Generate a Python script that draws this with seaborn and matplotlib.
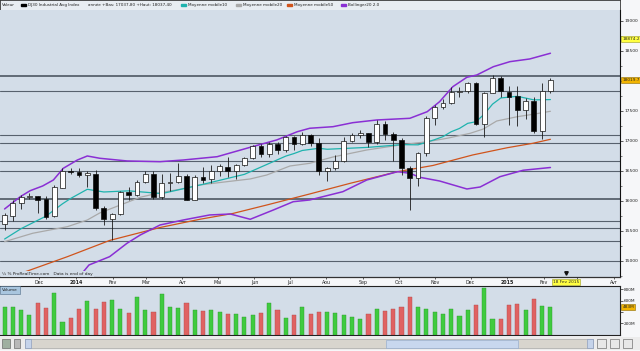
import numpy as np
import pandas as pd
import matplotlib
matplotlib.use("Agg")
import matplotlib.pyplot as plt
import matplotlib.transforms as mtransforms
from matplotlib.patches import Rectangle
from matplotlib.ticker import FuncFormatter
import seaborn as sns

# weekly candles DJ30, first week starts 4 Nov 2013, last week 9 Feb 2015
opens = [15617, 15750, 15962, 16064, 16083, 16028, 15750, 16211, 16500, 16483,
         16433, 16450, 15878, 15695, 15790, 16155, 16100, 16322, 16450, 16061,
         16300, 16322, 16417, 16017, 16405, 16367, 16505, 16572, 16495, 16606,
         16717, 16924, 16776, 16947, 16851, 17068, 16944, 17100, 16961, 16493,
         16554, 16663, 17001, 17098, 17138, 16988, 17280, 17113, 17010, 16544,
         16380, 16805, 17391, 17573, 17635, 17810, 17828, 17959, 17281, 17805,
         18053, 17822, 17750, 17512, 17673, 17165, 17825]
highs = [15805, 16017, 16100, 16130, 16090, 16080, 16267, 16545, 16545, 16545,
         16505, 16510, 15917, 15800, 16160, 16228, 16350, 16505, 16505, 16450,
         16461, 16633, 16450, 16433, 16561, 16600, 16610, 16735, 16620, 16735,
         16933, 16950, 16983, 16983, 17083, 17083, 17151, 17110, 17045, 16572,
         16767, 17072, 17133, 17190, 17140, 17350, 17333, 17150, 17045, 16583,
         16822, 17411, 17600, 17695, 17905, 17905, 17983, 17990, 17822, 18103,
         18090, 17922, 17922, 17722, 17733, 17961, 18045]
lows = [15517, 15672, 15862, 16030, 15795, 15700, 15738, 16211, 16450, 16405,
        16228, 15850, 15600, 15350, 15770, 16017, 16083, 16295, 16033, 16030,
        16172, 16300, 16015, 16015, 16305, 16305, 16420, 16400, 16365, 16590,
        16700, 16728, 16733, 16783, 16817, 16850, 16930, 16917, 16433, 16333,
        16517, 16645, 16990, 17050, 16905, 16950, 17017, 16674, 16433, 15855,
        16255, 16750, 17267, 17530, 17610, 17740, 17805, 17270, 17068, 17800,
        17730, 17262, 17250, 17362, 17139, 17038, 17800]
closes = [15767, 15962, 16062, 16086, 16017, 15738, 16228, 16505, 16478, 16439,
          16461, 15878, 15695, 15790, 16150, 16100, 16317, 16450, 16061, 16305,
          16320, 16417, 16017, 16405, 16355, 16505, 16583, 16495, 16606, 16717,
          16924, 16776, 16947, 16851, 17068, 16944, 17100, 16961, 16493, 16554,
          16663, 17001, 17098, 17138, 16988, 17280, 17113, 17010, 16544, 16380,
          16805, 17391, 17573, 17635, 17810, 17828, 17959, 17281, 17805, 18053,
          17833, 17737, 17517, 17673, 17165, 17825, 18019.7]
volumes_m = [488, 494, 435, 347, 553, 476, 729, 223, 294, 453,
             594, 453, 570, 606, 453, 388, 670, 429, 406, 717,
             488, 465, 553, 429, 423, 435, 394, 370, 370, 312,
             353, 376, 559, 435, 300, 341, 494, 365, 400, 400,
             376, 341, 306, 270, 365, 447, 417, 453, 494, 664,
             494, 447, 394, 365, 459, 329, 429, 523, 823, 282,
             270, 523, 547, 435, 629, 512, 483]

# indicator lines: (week index, value)
ma10_week = [0, 2, 5, 7, 8, 10, 12, 15, 19, 24, 29, 34, 35, 36, 38, 39, 44, 48, 50,
             52, 53, 54, 55, 56, 57, 58, 59, 60, 62, 64, 66]
ma10_val = [15366, 15539, 15747, 15953, 16043, 16195, 16150, 16169, 16123, 16278,
            16444, 16748, 16791, 16842, 16878, 16862, 16894, 16939, 16936, 17022,
            17072, 17154, 17209, 17294, 17321, 17447, 17614, 17717, 17745, 17685, 17690]
ma20_week = [0, 3.4, 7.6, 10, 11.5, 14, 16.4, 18.8, 21.2, 23.6, 26.9, 29.7, 31.7,
             34.5, 36.9, 39.7, 43.8, 47.8, 51.1, 53.5, 56.3, 57.9, 59.5, 62, 63.9, 66]
ma20_val = [15322, 15462, 15572, 15683, 15800, 15933, 16062, 16138, 16195, 16267,
            16322, 16367, 16433, 16583, 16628, 16733, 16850, 16933, 16988, 17045,
            17128, 17200, 17333, 17405, 17445, 17495]
ma50_week = [0, 3.1, 7.6, 12.7, 18.8, 23.6, 27.6, 31.7, 36.9, 41.8, 47.5, 51.8,
             56.6, 60.8, 63.9, 66]
ma50_val = [14700, 14850, 15072, 15342, 15558, 15695, 15792, 15933, 16117, 16295,
            16488, 16592, 16767, 16888, 16962, 17028]
boll_up_week = [0, 1.9, 3.1, 4.6, 5.9, 7.1, 8.8, 10, 11.5, 14.8, 18.8, 21.6, 25.7,
                29.7, 32.9, 35.4, 36.9, 39.7, 42.1, 45, 49, 51.1, 52.6, 54.2, 55.9,
                57.1, 59.1, 61.1, 63.5, 66]
boll_up_val = [15867, 16072, 16172, 16250, 16350, 16545, 16683, 16750, 16712, 16667,
               16655, 16683, 16738, 16895, 17017, 17155, 17212, 17238, 17305, 17350,
               17378, 17488, 17655, 17905, 18062, 18100, 18238, 18322, 18367, 18462]
boll_lo_week = [9.1, 10.2, 12.7, 14.8, 16.4, 18.8, 21.6, 24.8, 27.3, 29.7, 32.5,
                34.9, 36.9, 40.9, 43.8, 47.5, 49, 50.2, 52.6, 55.9, 57.5, 59.9, 62.7, 66]
boll_lo_val = [14750, 14933, 15072, 15295, 15433, 15600, 15683, 15767, 15783, 15695,
               15850, 15988, 16017, 16155, 16350, 16488, 16462, 16395, 16333, 16200,
               16233, 16405, 16512, 16558]

# horizontal levels drawn on the chart
levels = [18083, 17833, 17100, 16967, 16667, 16500, 16033, 15667, 15550, 15333, 15000]

month_names = {2: "Fev", 3: "Mar", 4: "Avr", 5: "Mai", 6: "Jun", 7: "Jul",
               8: "Aou", 9: "Sep", 10: "Oct", 11: "Nov", 12: "Dec"}
cursor_date = "2015-02-18"
cursor_price = 18700
cursor_label = "18874.2"

W, H = 640, 351
PANEL = "#d3dde8"


def fig_box(x0, y0, x1, y1):
    # pixel box, origin top-left -> figure rect
    return [x0 / W, 1 - y1 / H, (x1 - x0) / W, (y1 - y0) / H]


sns.set_theme(style="white")
plt.rcParams["font.family"] = ["DejaVu Sans"]

weeks = pd.date_range("2013-11-04", periods=len(closes), freq="7D")
x = np.arange(len(closes))
o = np.array(opens, dtype=float)
c = np.array(closes, dtype=float)
up = c >= o

fig = plt.figure(figsize=(6.4, 3.51), dpi=100, facecolor="#f6f7f9")
ax_head = fig.add_axes(fig_box(0, 0, 620, 9.5))
ax = fig.add_axes(fig_box(0, 10, 620, 276.7))
ax_vol = fig.add_axes(fig_box(0, 286, 620, 335))
ax_bar = fig.add_axes(fig_box(0, 337, 640, 350))

xlim = (-4.6 / 8.27, (620 - 4.6) / 8.27)

# ---- price panel
ax.set_facecolor(PANEL)
for lv in levels:
    ax.axhline(lv, color="#57616d", lw=1.3 if lv in (18083, 16033) else 0.8, zorder=1)

sns.lineplot(x=ma50_week, y=ma50_val, ax=ax, color="#d0541c", lw=0.9, zorder=2)
sns.lineplot(x=ma20_week, y=ma20_val, ax=ax, color="#a9a9a9", lw=0.9, zorder=2)
sns.lineplot(x=ma10_week, y=ma10_val, ax=ax, color="#1fb3ae", lw=0.9, zorder=2)
sns.lineplot(x=boll_up_week, y=boll_up_val, ax=ax, color="#8a2fd4", lw=1.1, zorder=2)
sns.lineplot(x=boll_lo_week, y=boll_lo_val, ax=ax, color="#8a2fd4", lw=1.1, zorder=2)

ax.vlines(x, lows, highs, color="#1a1a1a", lw=0.6, zorder=4)
body_h = np.maximum(np.abs(c - o), 6)
ax.bar(x, body_h, bottom=np.minimum(o, c), width=0.58,
       color=np.where(up, "white", "black"), edgecolor="#111111", linewidth=0.5, zorder=5)

ax.set_xlim(*xlim)
ax.set_ylim(14738, 19183)
ax.set_xlabel("")
ax.set_ylabel("")

cur_x = (pd.Timestamp(cursor_date) - weeks[0]).days / 7 + 0.6

months = pd.date_range("2013-12-01", "2015-04-01", freq="MS")
month_pos = (months - weeks[0]).days / 7 + 0.35
month_lbl = [str(m.year) if m.month == 1 else month_names[m.month] for m in months]
# the date box of the cursor hides the month label beneath it
month_lbl = ["" if abs(p - cur_x) < 2 else t for p, t in zip(month_pos, month_lbl)]
ax.set_xticks(month_pos, labels=month_lbl)
for lbl in ax.get_xticklabels():
    if lbl.get_text().isdigit():
        lbl.set_fontweight("bold")
ax.tick_params(axis="x", length=1.5, width=0.5, labelsize=3.4, pad=1.2,
               colors="#222222", bottom=True)

ax.yaxis.tick_right()
ax.set_yticks(np.arange(15000, 19001, 500))
ax.set_yticks(np.arange(14750, 19200, 250), minor=True)
# the last-quote box covers the 18000 label
ax.yaxis.set_major_formatter(FuncFormatter(
    lambda v, _: "" if abs(v - closes[-1]) < 150 else f"{v:.0f}"))
ax.tick_params(axis="y", which="major", length=2, width=0.5, labelsize=3.2,
               pad=1, colors="#222222", right=True)
ax.tick_params(axis="y", which="minor", length=1.2, width=0.4, colors="#222222", right=True)
for side in ["left", "top"]:
    ax.spines[side].set_visible(False)
ax.spines["right"].set_color("#111111")
ax.spines["right"].set_linewidth(0.8)
ax.spines["bottom"].set_color("#333333")
ax.spines["bottom"].set_linewidth(0.9)

ax.text(0.003, 0.004, "¼ % ProRealTime.com   Data is end of day", transform=ax.transAxes,
        fontsize=3.1, color="#222222", va="bottom", ha="left", zorder=7,
        bbox=dict(boxstyle="square,pad=0.25", fc=PANEL, ec="none"))

yt = mtransforms.blended_transform_factory(ax.transAxes, ax.transData)
ax.text(1.004, closes[-1], f"{closes[-1]:.1f}", transform=yt, fontsize=3.1,
        va="center", ha="left", clip_on=False, zorder=10,
        bbox=dict(boxstyle="square,pad=0.25", fc="#f2b400", ec="#8c6a00", lw=0.4))
ax.text(1.004, cursor_price, cursor_label, transform=yt, fontsize=3.1,
        va="center", ha="left", clip_on=False, zorder=10,
        bbox=dict(boxstyle="square,pad=0.25", fc="#ffff40", ec="#9a9a20", lw=0.4))

xt = mtransforms.blended_transform_factory(ax.transData, ax.transAxes)
ax.plot([cur_x], [0.012], marker="v", ms=2.5, color="#111111", transform=xt,
        clip_on=False, zorder=9)
ax.text(cur_x, -0.012, "18 Fev 2015", transform=xt, fontsize=3.1, va="top",
        ha="center", clip_on=False, zorder=10,
        bbox=dict(boxstyle="square,pad=0.25", fc="#ffff40", ec="#9a9a20", lw=0.4))

# ---- volume panel
ax_vol.set_facecolor(PANEL)
ax_vol.bar(x, volumes_m, width=0.5, color=np.where(up, "#3fcb3f", "#e06262"),
           edgecolor=np.where(up, "#2c9a2c", "#b24a4a"), linewidth=0.3, zorder=3)
ax_vol.set_xlim(*xlim)
ax_vol.set_ylim(-5.3, 858)
ax_vol.set_xticks([])
ax_vol.yaxis.tick_right()
ax_vol.set_yticks([200, 400, 600, 800])
# the last-volume box covers the 400M label
ax_vol.yaxis.set_major_formatter(FuncFormatter(
    lambda v, _: "" if abs(v - volumes_m[-1]) < 100 else f"{v:.0f}M"))
ax_vol.tick_params(axis="y", length=2, width=0.5, labelsize=3.1, pad=1,
                   colors="#222222", right=True)
ax_vol.spines["left"].set_visible(False)
for side in ["top", "bottom", "right"]:
    ax_vol.spines[side].set_color("#222222")
    ax_vol.spines[side].set_linewidth(0.8)
vt = mtransforms.blended_transform_factory(ax_vol.transAxes, ax_vol.transData)
ax_vol.text(1.004, volumes_m[-1], f"{volumes_m[-1]}M", transform=vt, fontsize=3.1,
            va="center", ha="left", clip_on=False, zorder=10,
            bbox=dict(boxstyle="square,pad=0.25", fc="#f2b400", ec="#8c6a00", lw=0.4))
ax_vol.text(0.003, 0.96, "Volume", transform=ax_vol.transAxes, fontsize=3.1,
            va="top", ha="left", zorder=8,
            bbox=dict(boxstyle="square,pad=0.45", fc="#a9c6df", ec="#4f6a84", lw=0.4))

# ---- header strip
ax_head.set_facecolor("#e8edf2")
ax_head.set_xlim(0, 620)
ax_head.set_ylim(0, 9.5)
ax_head.set_xticks([])
ax_head.set_yticks([])
for sp in ax_head.spines.values():
    sp.set_color("#333333")
    sp.set_linewidth(0.6)
head_txt = dict(fontsize=3.0, va="center", ha="left", color="#222222")
ax_head.text(2, 4.8, "Valeur", **head_txt)
ax_head.add_patch(Rectangle((21, 3.6), 5, 2.2, color="#000000"))
ax_head.text(28, 4.8, "DJ30 Industrial Avg Index", **head_txt)
ax_head.text(88, 4.8, "année +Bas: 17037,80 +Haut: 18037,40", **head_txt)
legend_items = [(181, "#1fb3ae", "Moyenne mobile10"), (236, "#a9a9a9", "Moyenne mobile20"),
                (287, "#d0541c", "Moyenne mobile50"), (341, "#8a2fd4", "Bollinger20 2.0")]
for px, col, name in legend_items:
    ax_head.add_patch(Rectangle((px, 3.6), 5, 2.2, color=col))
    ax_head.text(px + 7, 4.8, name, **head_txt)

# ---- scroll bar strip
ax_bar.set_facecolor("#ececec")
ax_bar.set_xlim(0, 640)
ax_bar.set_ylim(0, 13)
ax_bar.set_xticks([])
ax_bar.set_yticks([])
for sp in ax_bar.spines.values():
    sp.set_visible(False)
ax_bar.add_patch(Rectangle((2, 2), 8, 9, fc="#9fb0a0", ec="#555555", lw=0.4))
ax_bar.add_patch(Rectangle((14, 2), 6, 9, fc="#b8b8b8", ec="#555555", lw=0.4))
ax_bar.add_patch(Rectangle((25, 2), 568, 9, fc="#d8d5ce", ec="#9a9a9a", lw=0.4))
ax_bar.add_patch(Rectangle((25, 2), 6, 9, fc="#c5d3ea", ec="#7f93b8", lw=0.4))
ax_bar.add_patch(Rectangle((386, 2.5), 132, 8, fc="#c8d7ee", ec="#8ea6cc", lw=0.4))
ax_bar.add_patch(Rectangle((587, 2), 6, 9, fc="#c5d3ea", ec="#7f93b8", lw=0.4))
for px in (597, 610, 623):
    ax_bar.add_patch(Rectangle((px, 2), 9, 9, fc="#e8e8e8", ec="#555555", lw=0.4))

fig.savefig("out.png", dpi=100, facecolor=fig.get_facecolor())
